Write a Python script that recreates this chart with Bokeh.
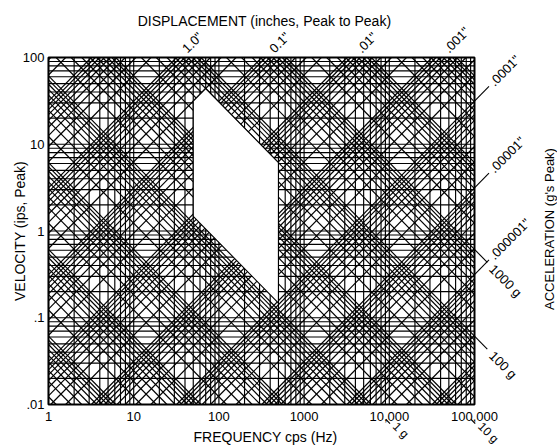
import math
from bokeh.plotting import figure
from bokeh.models import Label
from bokeh.embed import file_html
from bokeh.resources import INLINE

# ---- data ----
freq_ticks = [1, 10, 100, 1000, 10000, 100000]
freq_labels = ["1", "10", "100", "1000", "10,000", "100,000"]
vel_ticks = [0.01, 0.1, 1, 10, 100]
vel_labels = [".01", ".1", "1", "10", "100"]
grid_multipliers = [1, 2, 3, 4, 5, 6, 7, 8, 9]
freq_decades = [0, 1, 2, 3, 4]
vel_decades = [-2, -1, 0, 1]
disp_decades = [-8, -7, -6, -5, -4, -3, -2, -1, 0, 1]
acc_decades = [-4, -3, -2, -1, 0, 1, 2, 3, 4, 5]
disp_top_values = [1.0, 0.1, 0.01, 0.001]
disp_top_labels = ['1.0"', '0.1"', '.01"', '.001"']
disp_right_values = [1e-4, 1e-5, 1e-6]
disp_right_labels = ['.0001"', '.00001"', '.000001"']
acc_right_values = [1000, 100]
acc_right_labels = ["1000 g", "100 g"]
acc_bottom_values = [1, 10]
acc_bottom_labels = ["1 g", "10 g"]
# blank (white) region bounds
blank_f_min = 50
blank_f_max = 500
blank_disp = 0.2
blank_acc_max = 50
blank_acc_min = 1.2

G = 386.1  # in/s^2 per g
F_MIN, F_MAX = freq_ticks[0], freq_ticks[-1]
V_MIN, V_MAX = vel_ticks[0], vel_ticks[-1]

# ---- layout (pixels) ----
W, H = 557, 446
FRAME_L, FRAME_R, FRAME_T, FRAME_B = 48, 474, 57, 404
lf0, lf1 = math.log10(F_MIN), math.log10(F_MAX)
lv0, lv1 = math.log10(V_MIN), math.log10(V_MAX)
pxd_x = (FRAME_R - FRAME_L) / (lf1 - lf0)
pxd_y = (FRAME_B - FRAME_T) / (lv1 - lv0)
x_range = (10 ** (lf0 - FRAME_L / pxd_x), 10 ** (lf1 + (W - FRAME_R) / pxd_x))
y_range = (10 ** (lv0 - (H - FRAME_B) / pxd_y), 10 ** (lv1 + FRAME_T / pxd_y))


def v_disp(f, d):
    return math.pi * f * d


def v_acc(f, a):
    return a * G / (2 * math.pi * f)


FONT = "Liberation Sans"

p = figure(width=W, height=H, x_axis_type="log", y_axis_type="log",
           x_range=x_range, y_range=y_range,
           x_axis_location=None, y_axis_location=None,
           output_backend="svg", toolbar_location=None, min_border=0)
p.xgrid.visible = False
p.ygrid.visible = False
p.outline_line_color = None
p.background_fill_color = "white"
p.border_fill_color = "white"

# grid lines (clipped to the chart rectangle in log space)
xs, ys = [], []
for k in freq_decades:
    for m in grid_multipliers:
        f = m * 10 ** k
        xs.append([f, f]); ys.append([V_MIN, V_MAX])
for k in vel_decades:
    for m in grid_multipliers:
        v = m * 10 ** k
        xs.append([F_MIN, F_MAX]); ys.append([v, v])
for k in disp_decades:
    for m in grid_multipliers:
        c = math.log10(v_disp(1, m * 10 ** k))      # log v = log f + c
        a0, a1 = max(lf0, lv0 - c), min(lf1, lv1 - c)
        if a1 > a0:
            xs.append([10 ** a0, 10 ** a1]); ys.append([10 ** (a0 + c), 10 ** (a1 + c)])
for k in acc_decades:
    for m in grid_multipliers:
        c = math.log10(v_acc(1, m * 10 ** k))       # log v = -log f + c
        a0, a1 = max(lf0, c - lv1), min(lf1, c - lv0)
        if a1 > a0:
            xs.append([10 ** a0, 10 ** a1]); ys.append([10 ** (c - a0), 10 ** (c - a1)])
p.multi_line(xs, ys, line_color="black", line_width=1.15)

# blank region
f_peak = math.sqrt(blank_acc_max * G / (2 * math.pi * math.pi * blank_disp))
bx = [blank_f_min, f_peak, blank_f_max, blank_f_max, blank_f_min]
by = [v_disp(blank_f_min, blank_disp), v_disp(f_peak, blank_disp),
      v_acc(blank_f_max, blank_acc_max), v_acc(blank_f_max, blank_acc_min),
      v_acc(blank_f_min, blank_acc_min)]
p.patch(bx, by, fill_color="white", line_color="black", line_width=1.15)

# chart frame
p.quad(left=[F_MIN], right=[F_MAX], bottom=[V_MIN], top=[V_MAX],
       fill_color=None, line_color="black", line_width=2)


def lab(text, x, y, **kw):
    base = dict(text_font=FONT, text_font_size="14px", text_color="black",
                x_units="data", y_units="data")
    base.update(kw)
    p.add_layout(Label(x=x, y=y, text=text, **base))


# tick labels
for f, t in zip(freq_ticks, freq_labels):
    lab(t, f, V_MIN, y_offset=-7, text_align="center", text_baseline="top",
        text_font_size="13px")
for v, t in zip(vel_ticks, vel_labels):
    lab(t, F_MIN, v, x_offset=-4, text_align="right", text_baseline="middle",
        text_font_size="13px")

# axis titles
mid_f = math.sqrt(F_MIN * F_MAX)
mid_v = math.sqrt(V_MIN * V_MAX)
lab("DISPLACEMENT (inches, Peak to Peak)", mid_f, V_MAX, x_offset=3, y_offset=37,
    text_align="center", text_baseline="middle")
lab("FREQUENCY cps (Hz)", mid_f, V_MIN, x_offset=4, y_offset=-32,
    text_align="center", text_baseline="middle")
lab("VELOCITY (ips, Peak)", F_MIN, mid_v, x_offset=-29, angle=90, angle_units="deg",
    text_align="center", text_baseline="middle")
lab("ACCELERATION (g's Peak)", F_MAX, mid_v, x_offset=75, y_offset=2, angle=90,
    angle_units="deg", text_align="center", text_baseline="middle", text_font_size="13px")

# leaders
lx0, ly0, lx1, ly1 = [], [], [], []


def leader(x0, y0, x1, y1):
    lx0.append(x0); ly0.append(y0); lx1.append(x1); ly1.append(y1)


# displacement labels at top (no leader)
for i, (d, t) in enumerate(zip(disp_top_values, disp_top_labels)):
    f0 = V_MAX / (math.pi * d)
    s = 10 ** 0.08
    lab(t, f0 * s, V_MAX * s, x_offset=1 + 2 * i, angle=45, angle_units="deg",
        text_align="left", text_baseline="middle", text_font_size="13px")

# displacement labels at right
for d, t in zip(disp_right_values, disp_right_labels):
    v0 = v_disp(F_MAX, d)
    s1, s2 = 10 ** 0.17, 10 ** 0.2
    leader(F_MAX, v0, F_MAX * s1, v0 * s1)
    lab(t, F_MAX * s2, v0 * s2, angle=45, angle_units="deg", text_align="left",
        text_baseline="middle", text_font_size="13px")

# acceleration labels at right
for a, t in zip(acc_right_values, acc_right_labels):
    v0 = v_acc(F_MAX, a)
    s1, s2 = 10 ** 0.15, 10 ** 0.2
    leader(F_MAX, v0, F_MAX * s1, v0 / s1)
    lab(t, F_MAX * s2, v0 / s2, angle=-45, angle_units="deg", text_align="left",
        text_baseline="middle", text_font_size="13px")

# acceleration labels at bottom
for a, t in zip(acc_bottom_values, acc_bottom_labels):
    f0 = a * G / (2 * math.pi * V_MIN)
    s0, s1, s2 = 10 ** 0.17, 10 ** 0.22, 10 ** 0.23
    leader(f0 * s0, V_MIN / s0, f0 * s1, V_MIN / s1)
    lab(t, f0 * s2, V_MIN / s2, x_offset=4, angle=-45, angle_units="deg",
        text_align="left", text_baseline="middle", text_font_size="12px")

p.segment(x0=lx0, y0=ly0, x1=lx1, y1=ly1, line_color="black", line_width=1.1)

open("out.html", "w").write(file_html(p, INLINE))
